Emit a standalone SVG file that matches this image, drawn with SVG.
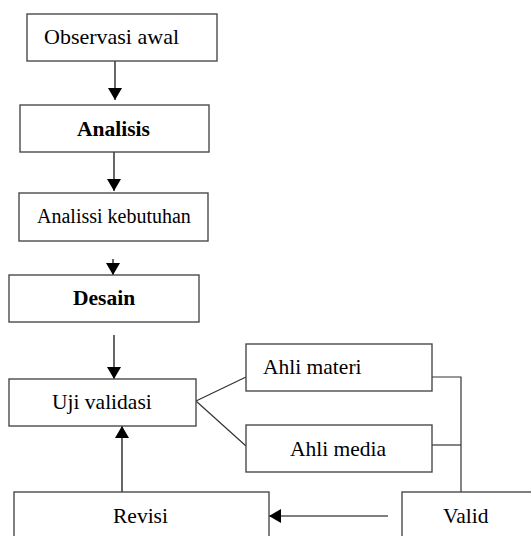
<svg xmlns="http://www.w3.org/2000/svg" width="531" height="536" viewBox="0 0 531 536">
<style>
.box{fill:#fff;stroke:#4a4a4a;stroke-width:1.4}
.t{font-family:'Liberation Serif','Times New Roman','DejaVu Serif',serif;font-size:21.5px;fill:#000}
.b{font-weight:bold}
.c{fill:none;stroke:#000;stroke-width:1.2}
.g{fill:none;stroke:#333;stroke-width:1.2}
</style>
<defs>
<marker id="ah" markerUnits="userSpaceOnUse" markerWidth="12" markerHeight="14" viewBox="0 0 12 14" refX="12" refY="7" orient="auto">
<path d="M0,0 L12,7 L0,14 z" fill="#000"/>
</marker>
</defs>
<rect width="531" height="536" fill="#fff"/>
<g id="connectors">
<line class="c" x1="115" y1="61" x2="115" y2="100" marker-end="url(#ah)"/>
<line class="c" x1="114" y1="152" x2="114" y2="191" marker-end="url(#ah)"/>
<line class="c" x1="113" y1="259" x2="113" y2="275" marker-end="url(#ah)"/>
<line class="c" x1="114" y1="335" x2="114" y2="379" marker-end="url(#ah)"/>
<line class="g" x1="196" y1="401" x2="246" y2="377"/>
<line class="g" x1="196" y1="401" x2="246" y2="446"/>
<polyline class="g" points="432,377 461,377 461,492"/>
<line class="g" x1="431" y1="445" x2="461" y2="445"/>
<line class="c" x1="388" y1="516" x2="269" y2="516" marker-end="url(#ah)"/>
<line class="c" x1="122" y1="492" x2="122" y2="426" marker-end="url(#ah)"/>
</g>
<g id="observasi"><rect class="box" x="27" y="14" width="190" height="47"/><text class="t" font-family="Liberation Serif, serif" x="44" y="44" style="font-size:22px">Observasi awal</text></g>
<g id="analisis"><rect class="box" x="20" y="105" width="189" height="47"/><text class="t b" font-family="Liberation Serif, serif" x="77" y="136">Analisis</text></g>
<g id="kebutuhan"><rect class="box" x="19" y="193" width="189" height="48"/><text class="t" font-family="Liberation Serif, serif" x="37" y="223" style="font-size:20px">Analissi kebutuhan</text></g>
<g id="desain"><rect class="box" x="9" y="275" width="190" height="47"/><text class="t b" font-family="Liberation Serif, serif" x="73" y="305">Desain</text></g>
<g id="uji"><rect class="box" x="9" y="379" width="187" height="47"/><text class="t" font-family="Liberation Serif, serif" x="52" y="409">Uji validasi</text></g>
<g id="materi"><rect class="box" x="246" y="344" width="186" height="47"/><text class="t" font-family="Liberation Serif, serif" x="263" y="374">Ahli materi</text></g>
<g id="media"><rect class="box" x="246" y="425" width="186" height="47"/><text class="t" font-family="Liberation Serif, serif" x="290" y="456">Ahli media</text></g>
<g id="revisi"><rect class="box" x="14" y="492" width="255" height="60"/><text class="t" font-family="Liberation Serif, serif" x="113" y="523">Revisi</text></g>
<g id="valid"><rect class="box" x="402" y="492" width="140" height="60"/><text class="t" font-family="Liberation Serif, serif" x="443" y="523">Valid</text></g>
</svg>
